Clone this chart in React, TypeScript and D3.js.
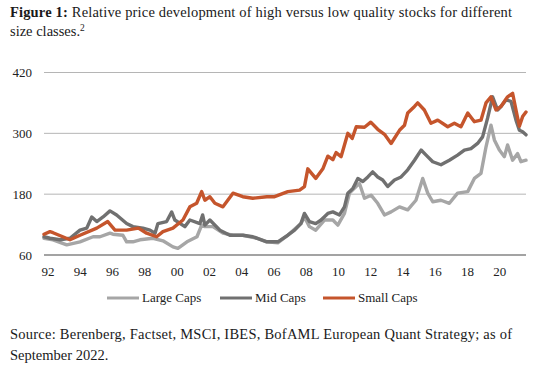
import React from "react";
import * as d3 from "d3";

const yTicks = [60, 180, 300, 420];
const xTickYears = d3.range(1992, 2021, 2);
const seriesNames = ["Large Caps", "Mid Caps", "Small Caps"];
const seriesColors = ["#a6a6a6", "#707070", "#c5552c"];

const largeYears = [1991.75, 1992.31, 1993.16, 1993.98, 1994.79, 1995.22, 1995.84, 1996.02, 1996.64, 1996.87, 1997.26, 1997.7, 1998.5, 1999.12, 1999.74, 2000.05, 2000.61, 2001.23, 2001.52, 2001.72, 2002.22, 2002.84, 2003.46, 2004.07, 2004.94, 2005.56, 2006.24, 2006.86, 2007.67, 2007.89, 2008.2, 2008.59, 2009.13, 2009.65, 2009.96, 2010.37, 2010.68, 2011.09, 2011.3, 2011.61, 2012.02, 2012.43, 2012.85, 2013.26, 2013.78, 2014.29, 2014.8, 2015.22, 2015.53, 2015.84, 2016.35, 2016.87, 2017.38, 2018.01, 2018.42, 2018.83, 2019.14, 2019.45, 2019.66, 2019.97, 2020.28, 2020.48, 2020.79, 2021.1, 2021.31, 2021.62];
const largeValues = [93, 90, 80, 86, 96, 96, 103, 101, 99, 86, 86, 90, 93, 88, 76, 73, 86, 96, 119, 116, 116, 103, 99, 99, 93, 86, 84, 99, 122, 135, 116, 109, 129, 129, 119, 142, 182, 195, 201, 172, 178, 162, 139, 145, 155, 149, 168, 211, 182, 165, 168, 162, 182, 185, 211, 221, 273, 316, 287, 267, 254, 277, 247, 260, 244, 247];

const midYears = [1991.75, 1992.12, 1992.74, 1993.36, 1993.98, 1994.4, 1994.71, 1995.02, 1995.41, 1995.84, 1996.25, 1996.87, 1997.26, 1997.88, 1998.32, 1998.63, 1998.81, 1999.35, 1999.66, 1999.86, 2000.48, 2000.79, 2001.41, 2001.58, 2001.72, 2002.03, 2002.65, 2003.27, 2004.07, 2004.69, 2005.56, 2006.24, 2006.86, 2007.28, 2007.67, 2007.89, 2008.2, 2008.59, 2008.92, 2009.34, 2009.65, 2010.06, 2010.37, 2010.58, 2010.89, 2011.2, 2011.51, 2011.82, 2012.12, 2012.43, 2012.74, 2013.05, 2013.47, 2013.88, 2014.29, 2014.71, 2015.12, 2015.43, 2015.84, 2016.35, 2016.87, 2017.38, 2017.8, 2018.21, 2018.62, 2018.93, 2019.24, 2019.55, 2019.86, 2020.07, 2020.38, 2020.69, 2021.0, 2021.21, 2021.41, 2021.62];
const midValues = [96, 93, 90, 93, 109, 113, 135, 126, 135, 147, 139, 122, 116, 113, 109, 103, 122, 126, 145, 129, 116, 129, 122, 139, 119, 129, 109, 99, 99, 96, 86, 86, 99, 109, 122, 142, 126, 122, 129, 142, 145, 139, 155, 182, 191, 211, 205, 214, 224, 214, 208, 195, 208, 214, 228, 247, 267, 257, 244, 238, 247, 257, 267, 270, 280, 293, 330, 372, 346, 353, 366, 363, 326, 306, 303, 297];

const smallYears = [1991.75, 1992.12, 1992.31, 1993.36, 1993.98, 1995.02, 1995.7, 1996.15, 1996.87, 1997.6, 1998.11, 1998.73, 1999.12, 1999.74, 2000.36, 2000.79, 2001.21, 2001.52, 2001.72, 2002.03, 2002.34, 2002.84, 2003.46, 2004.07, 2004.69, 2005.56, 2006.04, 2006.86, 2007.59, 2007.89, 2008.1, 2008.59, 2009.03, 2009.34, 2009.65, 2009.85, 2010.16, 2010.58, 2010.85, 2011.1, 2011.61, 2012.0, 2012.43, 2012.85, 2013.26, 2013.78, 2014.09, 2014.29, 2014.71, 2014.91, 2015.32, 2015.73, 2016.15, 2016.77, 2017.18, 2017.59, 2018.01, 2018.42, 2018.83, 2019.14, 2019.45, 2019.76, 2020.07, 2020.48, 2020.79, 2021.0, 2021.21, 2021.41, 2021.62];
const smallValues = [101, 106, 104, 90, 99, 113, 126, 109, 109, 113, 103, 96, 106, 113, 129, 155, 162, 185, 168, 175, 162, 155, 182, 175, 172, 175, 175, 185, 188, 195, 230, 211, 230, 255, 248, 262, 254, 300, 290, 313, 312, 322, 308, 298, 280, 306, 316, 340, 353, 360, 346, 320, 326, 313, 320, 313, 340, 323, 326, 360, 372, 346, 353, 372, 379, 346, 314, 333, 342];

const seriesYears = [largeYears, midYears, smallYears];
const seriesValues = [largeValues, midValues, smallValues];

const FONT = "Liberation Serif";

export default function App() {
  const W = 538;
  const H = 366;
  const x = d3.scaleLinear().domain([1991.75, 2021.62]).range([44, 526]);
  const y = d3.scaleLinear().domain([60, 420]).range([255, 72.5]);
  const line = d3
    .line<[number, number]>()
    .x((d) => x(d[0]))
    .y((d) => y(d[1]))
    .curve(d3.curveLinear);
  const fmt = (yr: number) => d3.format("02d")(yr % 100);
  const legendX = [107, 220, 323];

  return (
    <svg width={W} height={H} style={{ position: "absolute", left: 0, top: 0, background: "#fff" }}>
      <text x={10} y={17} fontSize={14.5} fill="#1a1a1a" fontFamily={FONT} textLength={502} lengthAdjust="spacing">
        <tspan fontWeight="bold">Figure 1:</tspan> Relative price development of high versus low quality stocks for different
      </text>
      <text x={10} y={36} fontSize={14.5} fill="#1a1a1a" fontFamily={FONT}>
        size classes.<tspan fontSize={9.5} dy={-5}>2</tspan>
      </text>

      {yTicks.map((t) =>
        t === 60 ? null : (
          <line key={"g" + t} x1={44} x2={526} y1={y(t)} y2={y(t)} stroke="#b5b5b5" strokeWidth={1} />
        )
      )}
      <line x1={44} x2={526} y1={y(60)} y2={y(60)} stroke="#858585" strokeWidth={1.6} />

      {yTicks.map((t) => (
        <text key={"yl" + t} x={32} y={y(t) + 4.5} textAnchor="end" fontSize={13} fill="#222" fontFamily={FONT}>
          {t}
        </text>
      ))}
      {xTickYears.map((yr) => (
        <text key={"xl" + yr} x={x(yr)} y={276} textAnchor="middle" fontSize={13} fill="#222" fontFamily={FONT}>
          {fmt(yr)}
        </text>
      ))}

      {seriesYears.map((yrs, i) => (
        <path
          key={"s" + i}
          d={line(yrs.map((yr, j) => [yr, seriesValues[i][j]] as [number, number])) || ""}
          fill="none"
          stroke={seriesColors[i]}
          strokeWidth={3.4}
          strokeLinejoin="round"
          strokeLinecap="round"
        />
      ))}

      {seriesNames.map((n, i) => (
        <g key={"lg" + i}>
          <line x1={legendX[i]} x2={legendX[i] + 32} y1={298} y2={298} stroke={seriesColors[i]} strokeWidth={3} />
          <text x={legendX[i] + 35} y={302} fontSize={13} fill="#222" fontFamily={FONT}>
            {n}
          </text>
        </g>
      ))}

      <text x={10} y={338.5} fontSize={14.5} fill="#1a1a1a" fontFamily={FONT} textLength={502} lengthAdjust="spacing">
        Source: Berenberg, Factset, MSCI, IBES, BofAML European Quant Strategy; as of
      </text>
      <text x={10} y={359.5} fontSize={14.5} fill="#1a1a1a" fontFamily={FONT}>
        September 2022.
      </text>
    </svg>
  );
}
